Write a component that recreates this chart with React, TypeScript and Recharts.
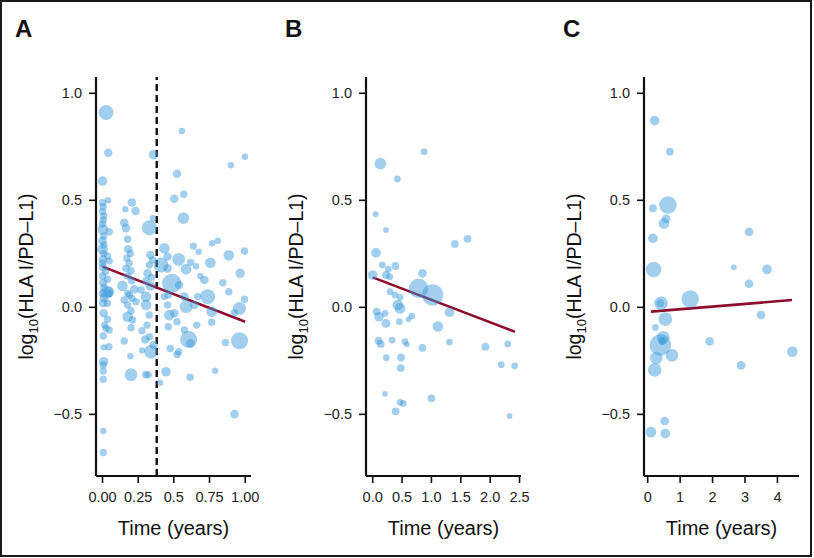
import React from "react";
import { ScatterChart, Scatter, XAxis, YAxis, ZAxis, ReferenceLine } from "recharts";

// [time (years), log10(HLA I/PD-L1), bubble size]
type Pt = [number, number, number];

const yTicks = [-0.5, 0, 0.5, 1];
const yTickLabels = ["−0.5", "0.0", "0.5", "1.0"];

const xTicksA = [0, 0.25, 0.5, 0.75, 1];
const xTickLabelsA = ["0.00", "0.25", "0.5", "0.75", "1.00"];
const xTicksB = [0, 0.5, 1, 1.5, 2, 2.5];
const xTickLabelsB = ["0.0", "0.5", "1.0", "1.5", "2.0", "2.5"];
const xTicksC = [0, 1, 2, 3, 4];
const xTickLabelsC = ["0", "1", "2", "3", "4"];

const pointsA: Pt[] = [
  [0.025, 0.91, 49], [0.04, 0.722, 16], [0.0, 0.59, 20], [0.038, 0.5, 9], [0.0, 0.489, 12],
  [0.005, 0.47, 12], [0.0, 0.447, 12], [0.01, 0.427, 12], [0.005, 0.408, 12], [0.0, 0.389, 12],
  [0.003, 0.364, 25], [0.047, 0.353, 12], [0.008, 0.333, 12], [0.0, 0.311, 16], [0.01, 0.291, 12],
  [0.0, 0.271, 25], [0.008, 0.252, 12], [0.035, 0.24, 12], [0.003, 0.224, 16], [0.0, 0.206, 12],
  [0.047, 0.216, 12], [0.003, 0.187, 16], [0.02, 0.166, 12], [0.0, 0.146, 12], [0.035, 0.131, 12],
  [0.005, 0.115, 16], [0.01, 0.093, 12], [0.045, 0.073, 25], [0.0, 0.065, 12], [0.008, 0.042, 16],
  [0.045, 0.065, 12], [0.03, 0.07, 36], [0.005, 0.019, 16], [0.035, 0.019, 12], [0.008, -0.028, 16],
  [0.035, -0.056, 12], [0.015, -0.083, 12], [0.025, -0.098, 12], [0.047, -0.106, 12], [0.005, -0.134, 12],
  [0.008, -0.187, 9], [0.045, -0.184, 12], [0.008, -0.254, 20], [0.005, -0.27, 12], [0.005, -0.298, 12],
  [0.005, -0.336, 12], [0.005, -0.578, 9], [0.005, -0.678, 12],
  [0.206, 0.49, 16], [0.232, 0.45, 16], [0.16, 0.458, 9], [0.152, 0.395, 16], [0.164, 0.37, 16],
  [0.176, 0.318, 12], [0.18, 0.271, 16], [0.195, 0.252, 12], [0.171, 0.229, 12], [0.187, 0.206, 12],
  [0.164, 0.182, 12], [0.2, 0.171, 12], [0.176, 0.146, 12], [0.204, 0.124, 12], [0.14, 0.1, 25],
  [0.223, 0.084, 16], [0.176, 0.065, 12], [0.206, 0.042, 12], [0.152, 0.034, 12], [0.188, 0.057, 12],
  [0.235, 0.026, 12], [0.176, 0.011, 12], [0.2, -0.016, 12], [0.176, -0.044, 25], [0.21, -0.059, 12],
  [0.2, -0.095, 12], [0.152, -0.157, 12], [0.195, -0.228, 9], [0.2, -0.315, 36],
  [0.358, 0.713, 20], [0.354, 0.416, 9], [0.328, 0.372, 49], [0.335, 0.244, 16], [0.351, 0.221, 12],
  [0.328, 0.198, 12], [0.316, 0.159, 16], [0.344, 0.14, 12], [0.305, 0.124, 12], [0.335, 0.1, 20],
  [0.27, 0.081, 12], [0.305, 0.05, 25], [0.305, 0.011, 25], [0.328, -0.036, 12], [0.312, -0.083, 12],
  [0.277, -0.109, 12], [0.328, -0.137, 12], [0.3, -0.15, 16], [0.358, -0.176, 16], [0.34, -0.207, 42],
  [0.277, -0.201, 9], [0.303, -0.315, 12], [0.32, -0.315, 12], [0.403, -0.352, 9],
  [0.503, 0.507, 16], [0.569, 0.528, 12], [0.522, 0.624, 16], [0.567, 0.417, 30], [0.556, 0.824, 9],
  [0.9, 0.664, 9], [0.998, 0.704, 9], [0.433, 0.276, 25], [0.41, 0.198, 49], [0.456, 0.182, 16],
  [0.456, 0.237, 16], [0.534, 0.224, 36], [0.637, 0.286, 12], [0.674, 0.26, 9], [0.768, 0.299, 9],
  [0.808, 0.311, 9], [0.885, 0.243, 25], [0.995, 0.263, 12], [0.756, 0.208, 25], [0.618, 0.21, 12],
  [0.656, 0.192, 9], [0.586, 0.178, 25], [0.485, 0.112, 81], [0.537, 0.104, 16], [0.714, 0.128, 16],
  [0.686, 0.146, 9], [0.843, 0.115, 12], [0.965, 0.159, 20], [0.737, 0.05, 49], [0.885, 0.073, 12],
  [0.995, 0.038, 12], [0.574, 0.05, 16], [0.433, 0.05, 12], [0.456, 0.011, 12], [0.468, -0.036, 25],
  [0.503, -0.028, 16], [0.461, 0.057, 12], [0.522, -0.067, 12], [0.586, 0.003, 36], [0.644, 0.011, 16],
  [0.765, -0.021, 25], [0.765, -0.07, 12], [0.96, -0.005, 36], [0.925, -0.025, 12], [0.667, 0.05, 12],
  [0.574, -0.106, 12], [0.461, -0.091, 12], [0.66, -0.083, 12], [0.862, -0.164, 12], [0.96, -0.156, 64],
  [0.604, -0.15, 64], [0.616, -0.168, 16], [0.475, -0.192, 12], [0.522, -0.22, 12], [0.534, -0.207, 12],
  [0.445, -0.301, 20], [0.614, -0.327, 12], [0.789, -0.296, 9], [0.925, -0.499, 16],
];

const pointsB: Pt[] = [
  [0.875, 0.727, 12], [0.13, 0.671, 36], [0.42, 0.6, 12], [0.05, 0.435, 9], [0.227, 0.361, 9],
  [0.056, 0.255, 25], [1.4, 0.296, 16], [1.615, 0.32, 16], [0.164, 0.198, 12], [0.386, 0.193, 16],
  [0.266, 0.178, 12], [0.0, 0.151, 25], [0.847, 0.159, 20], [0.227, 0.151, 16], [0.29, 0.143, 12],
  [0.78, 0.089, 100], [1.02, 0.058, 121], [0.295, 0.073, 12], [0.38, 0.058, 12], [0.466, 0.047, 12],
  [0.427, 0.011, 30], [0.466, -0.005, 30], [0.068, -0.02, 16], [0.108, -0.044, 25], [0.21, -0.028, 12],
  [0.227, -0.075, 20], [0.454, -0.067, 12], [0.61, -0.056, 9], [0.665, -0.041, 12], [1.307, -0.023, 25],
  [1.11, -0.09, 30], [0.1, -0.156, 16], [0.136, -0.171, 16], [0.33, -0.153, 12], [0.55, -0.16, 12],
  [0.58, -0.173, 9], [0.846, -0.189, 16], [1.307, -0.162, 12], [1.92, -0.184, 16], [2.3, -0.171, 12],
  [0.232, -0.235, 12], [0.483, -0.234, 16], [0.478, -0.284, 16], [2.19, -0.268, 12], [2.416, -0.273, 12],
  [0.21, -0.404, 9], [1.0, -0.425, 16], [0.466, -0.444, 12], [0.52, -0.449, 12], [0.39, -0.486, 16],
  [2.33, -0.508, 9],
];

const pointsC: Pt[] = [
  [0.215, 0.872, 25], [0.686, 0.727, 16], [0.625, 0.478, 81], [0.163, 0.463, 16], [0.572, 0.413, 20],
  [0.5, 0.392, 30], [0.163, 0.322, 25], [3.126, 0.352, 20], [0.184, 0.177, 64], [2.655, 0.187, 9],
  [3.68, 0.177, 25], [3.126, 0.11, 20], [0.41, 0.019, 49], [0.39, 0.019, 16], [1.31, 0.039, 81],
  [3.495, -0.036, 20], [0.543, -0.055, 49], [0.235, -0.094, 12], [0.48, -0.14, 42], [0.44, -0.156, 16],
  [0.46, -0.16, 12], [0.39, -0.176, 121], [1.908, -0.159, 20], [0.748, -0.224, 42], [0.265, -0.237, 42],
  [0.215, -0.293, 49], [2.88, -0.271, 20], [4.46, -0.207, 30], [0.523, -0.531, 20], [0.1, -0.583, 30],
  [0.543, -0.59, 25],
];

// regression line endpoints [time, value]
const fitA: [number, number][] = [[0, 0.19], [1.0, -0.067]];
const fitB: [number, number][] = [[0, 0.14], [2.42, -0.114]];
const fitC: [number, number][] = [[0.1, -0.02], [4.45, 0.034]];
const cutoffA = 0.38;

const FONT = "'Liberation Sans', Arial, Helvetica, sans-serif";
const BUBBLE = "#3a9ad8";
const FIT = "#8c0d2e";
const AXIS = "#111";

type PanelProps = {
  letter: string;
  left: number;
  width: number;
  axisWidth: number;
  xDomain: [number, number];
  xTicks: number[];
  xLabels: string[];
  points: Pt[];
  fit: [number, number][];
  cutoff?: number;
};

function Panel(p: PanelProps) {
  const data = p.points.map(([t, v, z]) => ({ t, v, z }));
  const plotRight = p.width - (p.axisWidth + 155);
  return (
    <div style={{ position: "absolute", left: p.left, top: 0, width: p.width, height: 558 }}>
      <div
        style={{
          position: "absolute",
          left: p.letter === "C" ? 23 : 15,
          top: 17,
          fontSize: 24,
          lineHeight: "24px",
          fontWeight: 700,
          fontFamily: FONT,
          color: "#111",
        }}
      >
        {p.letter}
      </div>
      <ScatterChart
        width={p.width}
        height={558}
        margin={{ top: 77, right: plotRight, bottom: 0, left: 0 }}
      >
        <XAxis
          type="number"
          dataKey="t"
          domain={p.xDomain}
          allowDataOverflow
          ticks={p.xTicks}
          interval={0}
          tickFormatter={(v: number) => p.xLabels[p.xTicks.indexOf(v)] ?? String(v)}
          height={82}
          tickSize={7}
          tickMargin={9}
          axisLine={{ stroke: AXIS, strokeWidth: 2.2 }}
          tickLine={{ stroke: AXIS, strokeWidth: 1.6 }}
          tick={{ fill: "#222", fontSize: 14.5, fontFamily: FONT }}
          label={{
            content: (props: any) => {
              const vb = props.viewBox || { x: 0, y: 0, width: 0 };
              return (
                <text
                  x={vb.x + vb.width / 2}
                  y={vb.y + 59}
                  textAnchor="middle"
                  fontSize={20}
                  fontFamily={FONT}
                  fill="#111"
                >
                  Time (years)
                </text>
              );
            },
          }}
        />
        <YAxis
          type="number"
          dataKey="v"
          domain={[-0.788, 1.076]}
          allowDataOverflow
          ticks={yTicks}
          interval={0}
          tickFormatter={(v: number) => yTickLabels[yTicks.indexOf(v)] ?? String(v)}
          width={p.axisWidth}
          tickSize={7}
          tickMargin={7}
          axisLine={{ stroke: AXIS, strokeWidth: 2.2 }}
          tickLine={{ stroke: AXIS, strokeWidth: 1.6 }}
          tick={{ fill: "#222", fontSize: 14.5, fontFamily: FONT }}
          label={{
            content: (props: any) => {
              const vb = props.viewBox || { x: 0, y: 0, width: 0, height: 0 };
              const bx = vb.x + vb.width - 63;
              const cy = vb.y + vb.height / 2;
              return (
                <text
                  x={bx}
                  y={cy}
                  transform={`rotate(-90 ${bx} ${cy})`}
                  textAnchor="middle"
                  fontSize={19.5}
                  fontFamily={FONT}
                  fill="#111"
                >
                  log
                  <tspan dy={5} fontSize={13}>10</tspan>
                  <tspan dy={-5}>(HLA I/PD–L1)</tspan>
                </text>
              );
            },
          }}
        />
        <ZAxis type="number" dataKey="z" domain={[0, 100]} range={[0, 360]} />
        <Scatter
          data={data}
          fill={BUBBLE}
          fillOpacity={0.47}
          shape="circle"
          isAnimationActive={false}
        />
        {p.cutoff !== undefined && (
          <ReferenceLine
            x={p.cutoff}
            stroke="#111"
            strokeWidth={2.4}
            strokeDasharray="7 4"
          />
        )}
        <ReferenceLine
          segment={[
            { x: p.fit[0][0], y: p.fit[0][1] },
            { x: p.fit[1][0], y: p.fit[1][1] },
          ]}
          stroke={FIT}
          strokeWidth={2.6}
        />
      </ScatterChart>
    </div>
  );
}

export default function App() {
  return (
    <div style={{ position: "relative", width: 814, height: 558, background: "#fff", fontFamily: FONT }}>
      <style>{`body{margin:0}`}</style>
      <Panel
        letter="A"
        left={0}
        width={270}
        axisWidth={96}
        xDomain={[-0.0456, 1.0407]}
        xTicks={xTicksA}
        xLabels={xTickLabelsA}
        points={pointsA}
        fit={fitA}
        cutoff={cutoffA}
      />
      <Panel
        letter="B"
        left={270}
        width={270}
        axisWidth={96}
        xDomain={[-0.114, 2.525]}
        xTicks={xTicksB}
        xLabels={xTickLabelsB}
        points={pointsB}
        fit={fitB}
      />
      <Panel
        letter="C"
        left={540}
        width={274}
        axisWidth={104}
        xDomain={[-0.114, 4.665]}
        xTicks={xTicksC}
        xLabels={xTickLabelsC}
        points={pointsC}
        fit={fitC}
      />
      <div
        style={{
          position: "absolute",
          left: 0,
          top: 0,
          width: 812,
          height: 557,
          border: "2px solid #1a1a1a",
          boxSizing: "border-box",
          pointerEvents: "none",
        }}
      />
    </div>
  );
}
